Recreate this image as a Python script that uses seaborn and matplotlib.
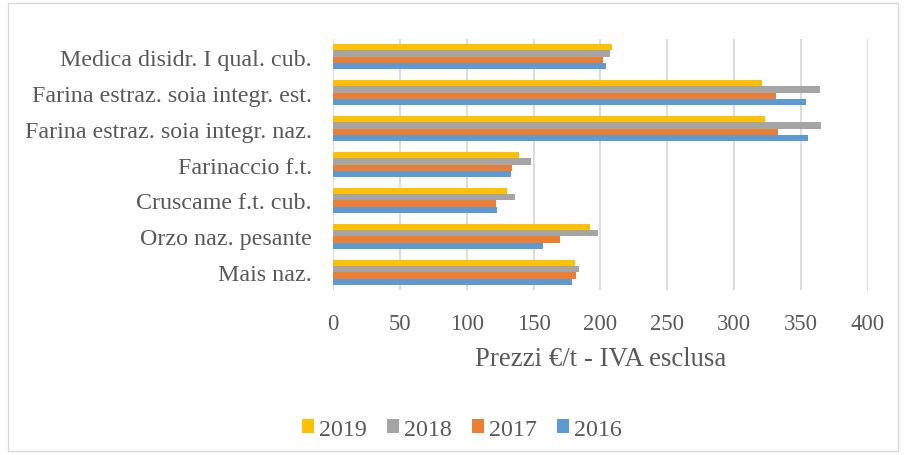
import matplotlib as mpl
mpl.use('Agg')
import matplotlib.pyplot as plt
import seaborn as sns
import pandas as pd

categories = ['Medica disidr. I qual. cub.',
              'Farina estraz. soia integr. est.',
              'Farina estraz. soia integr. naz.',
              'Farinaccio f.t.',
              'Cruscame f.t. cub.',
              'Orzo naz. pesante',
              'Mais naz.']
years = ['2019', '2018', '2017', '2016']
v2019 = [209, 321, 323, 139, 130, 192, 181]
v2018 = [207, 364, 365, 148, 136, 198, 184]
v2017 = [202, 331, 333, 134, 122, 170, 182]
v2016 = [204, 354, 355, 133, 123, 157, 179]
colors = ['#FFC000', '#A5A5A5', '#ED7D31', '#5B9BD5']

rows = []
for yr, vals in zip(years, [v2019, v2018, v2017, v2016]):
    for c, v in zip(categories, vals):
        rows.append({'Prodotto': c, 'Anno': yr, 'Prezzo': v})
df = pd.DataFrame(rows)

sns.set_style('white')
plt.rcParams['font.family'] = ['Liberation Serif', 'DejaVu Serif']
txt = '#595959'

fig = plt.figure(figsize=(9.06, 4.56), dpi=100)
ax = fig.add_axes([0.3675, 0.361, 0.5905, 0.552])
sns.barplot(data=df, y='Prodotto', x='Prezzo', hue='Anno', order=categories,
            hue_order=years, palette=colors, width=0.7, saturation=1,
            orient='h', ax=ax, legend=True, linewidth=0)

ax.set_xlim(0, 400)
ax.set_xticks(range(0, 401, 50))
ax.grid(axis='x', color='#D9D9D9', linewidth=1.3)
ax.set_axisbelow(True)
for s in ax.spines.values():
    s.set_visible(False)
ax.tick_params(axis='y', length=0, labelsize=17.3, labelcolor=txt, pad=15)
ax.tick_params(axis='x', length=0, labelsize=16.3, labelcolor=txt, pad=16)
ax.set_ylabel('')
ax.set_xlabel('Prezzi €/t - IVA esclusa', fontsize=19.3, color=txt, labelpad=9)

handles, labels = ax.get_legend_handles_labels()
ax.legend_.remove()
fig.legend(handles, labels, loc='center', bbox_to_anchor=(0.51, 0.057), ncol=4,
           frameon=False, fontsize=17.3, labelcolor=txt, handlelength=0.5,
           handleheight=0.5, handletextpad=0.2, columnspacing=0.85)

fig.patches.append(plt.Rectangle((0.009, 0.008), 0.982, 0.984, transform=fig.transFigure,
                                 fill=False, edgecolor='#D9D9D9', linewidth=1))
fig.savefig('out.png', dpi=100)
